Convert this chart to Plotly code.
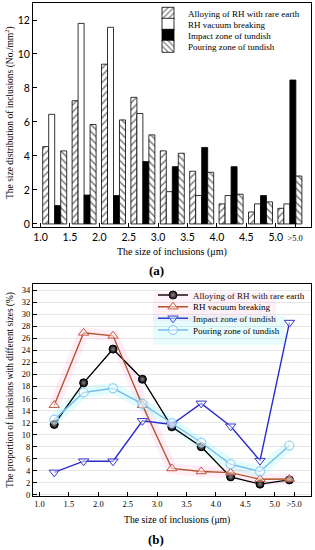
import plotly.graph_objects as go

# ---------------- data ----------------
bin_starts = [1.0, 1.5, 2.0, 2.5, 3.0, 3.5, 4.0, 4.5, 5.0]
bin_centers = [1.25, 1.75, 2.25, 2.75, 3.25, 3.75, 4.25, 4.75, 5.25]
tick_values = [1.0, 1.5, 2.0, 2.5, 3.0, 3.5, 4.0, 4.5, 5.0, 5.33]
tick_labels = ["1.0", "1.5", "2.0", "2.5", "3.0", "3.5", "4.0", "4.5", "5.0", ">5.0"]

series_names = ["Alloying of RH with rare earth", "RH vacuum breaking",
                "Impact zone of tundish", "Pouring zone of tundish"]

alloying_density = [4.55, 7.25, 9.4, 7.45, 4.3, 3.1, 1.18, 0.7, 0.92]
vacuum_density = [6.45, 11.8, 11.57, 6.5, 1.9, 1.67, 1.67, 1.18, 1.18]
impact_density = [1.08, 1.7, 1.67, 3.67, 3.37, 4.5, 3.37, 1.67, 8.47]
pouring_density = [4.3, 5.85, 6.12, 5.24, 4.16, 3.04, 1.75, 1.3, 2.82]

alloying_pct = [11.7, 18.6, 24.2, 19.2, 11.3, 8.0, 3.0, 1.8, 2.5]
vacuum_pct = [14.9, 26.9, 26.4, 14.9, 4.4, 3.9, 3.7, 2.6, 2.65]
impact_pct = [3.75, 5.6, 5.6, 12.3, 11.7, 15.2, 11.4, 5.7, 28.6]
pouring_pct = [12.5, 17.0, 17.7, 15.1, 11.9, 8.7, 5.1, 3.9, 8.2]

# ---------------- style ----------------
SERIF = "Liberation Serif"
SANS = "Lato"
W, H = 315, 550
ML, MR, MT, MB = 33, 4, 3, 54
PW, PH = W - ML - MR, H - MT - MB


def px_x(x):
    return (x - ML) / PW


def px_y(y):
    return (H - MB - y) / PH


fig = go.Figure()

bar_width = 0.102
bar_start = 0.037
bar_series = [alloying_density, vacuum_density, impact_density, pouring_density]
bar_styles = [
    dict(color="white", pattern=dict(shape="/", fgcolor="black", bgcolor="white", size=5, solidity=0.3)),
    dict(color="white"),
    dict(color="black"),
    dict(color="white", pattern=dict(shape="\\", fgcolor="black", bgcolor="white", size=5, solidity=0.3)),
]
legend_ids_a = ["legend", "legend2", "legend3", "legend4"]
for i, (vals, st) in enumerate(zip(bar_series, bar_styles)):
    fig.add_trace(go.Bar(
        x=bin_starts, y=vals, name=series_names[i],
        offset=bar_start + bar_width * i, width=bar_width,
        marker=dict(line=dict(color="black", width=0.8), **st),
        xaxis="x", yaxis="y", legend=legend_ids_a[i],
    ))

# highlight bands (b)
fig.add_trace(go.Scatter(x=bin_centers, y=vacuum_pct, mode="lines",
                         line=dict(color="rgba(255,120,190,0.13)", width=11),
                         showlegend=False, hoverinfo="skip", xaxis="x2", yaxis="y2"))
fig.add_trace(go.Scatter(x=bin_centers, y=pouring_pct, mode="lines",
                         line=dict(color="rgba(60,240,240,0.15)", width=11),
                         showlegend=False, hoverinfo="skip", xaxis="x2", yaxis="y2"))

line_series = [alloying_pct, vacuum_pct, impact_pct, pouring_pct]
line_colors = ["black", "#B5532B", "#2B2BCC", "#78BDEB"]
marker_colors = ["black", "#C8553D", "#3434D0", "#80C6F0"]
symbols = ["circle", "triangle-up", "triangle-down", "circle"]
legend_ids_b = ["legend5", "legend6", "legend7", "legend8"]
for i, vals in enumerate(line_series):
    if i == 0:
        mk = dict(symbol="circle", size=8, color="black",
                  gradient=dict(type="radial", color="#8a8a8a"),
                  line=dict(color="black", width=1))
    else:
        mk = dict(symbol=symbols[i], size=9, color="rgba(255,255,255,0.5)",
                  line=dict(color=marker_colors[i], width=1))
    fig.add_trace(go.Scatter(
        x=bin_centers, y=vals, name=series_names[i], mode="lines+markers",
        line=dict(color=line_colors[i], width=1.4), marker=mk,
        xaxis="x2", yaxis="y2", legend=legend_ids_b[i],
    ))

tick_text_a = tick_labels[:-1] + ["<span style='font-family:Liberation Serif;font-size:8.5px'>&gt;5.0</span>"]
tick_text_b = tick_labels[:-1] + ["&gt;5.0"]

axis_common = dict(showline=True, linecolor="black", linewidth=1, mirror=True,
                   ticks="inside", ticklen=4, tickcolor="black", zeroline=False,
                   automargin=False)

legend_common = dict(bgcolor="rgba(0,0,0,0)", borderwidth=0, xanchor="left", yanchor="middle",
                     font=dict(family=SERIF, size=9, color="black"), itemwidth=30,
                     tracegroupgap=0)

layout = dict(
    width=W, height=H, margin=dict(l=ML, r=MR, t=MT, b=MB, autoexpand=False),
    paper_bgcolor="white", plot_bgcolor="white", barmode="overlay",
    xaxis=dict(domain=[0, 1], anchor="y", range=[0.872, 5.60], tickvals=tick_values,
               ticktext=tick_text_a, tickfont=dict(family=SANS, size=10.5, color="black"),
               showgrid=False, **axis_common),
    yaxis=dict(domain=[px_y(227), 1.0], anchor="x", range=[-0.18, 13.0], tick0=0, dtick=2,
               tickfont=dict(family=SANS, size=10.5, color="black"), showgrid=False,
               **axis_common),
    xaxis2=dict(domain=[0, 1], anchor="y2", range=[0.889, 5.617], tickvals=tick_values,
                ticktext=tick_text_b, tickfont=dict(family=SERIF, size=8.5, color="black"),
                showgrid=False, **axis_common),
    yaxis2=dict(domain=[0, px_y(284)], anchor="x2", range=[-0.17, 35.0], tick0=0, dtick=2,
                tickfont=dict(family=SERIF, size=8.5, color="black"), showgrid=True,
                gridcolor="#e6e6e6", gridwidth=0.7, **axis_common),
)

rows_a = [13.3, 24.3, 35.3, 46.3]
rows_b = [295, 306.7, 318.3, 330]
for lid, ry in zip(legend_ids_a, rows_a):
    layout[lid] = dict(x=px_x(148), y=px_y(ry), **legend_common)
for j, (lid, ry) in enumerate(zip(legend_ids_b, rows_b)):
    lc = dict(legend_common)
    if j == 1:
        lc["bgcolor"] = "rgba(255,120,190,0.10)"
    if j == 3:
        lc["bgcolor"] = "rgba(60,240,240,0.12)"
    layout[lid] = dict(x=px_x(153), y=px_y(ry), **lc)

fig.update_layout(**layout)

annotations = [
    dict(text="The size distribution of inclusions (No./mm<sup>2</sup>)", x=px_x(10), y=px_y(113),
         textangle=-90, font=dict(family=SERIF, size=9.5)),
    dict(text="The size of inclusions (\u03bcm)", x=px_x(172), y=px_y(252),
         font=dict(family=SERIF, size=10)),
    dict(text="<b>(a)</b>", x=px_x(156), y=px_y(270), font=dict(family=SERIF, size=13)),
    dict(text="The proportion of inclusions with different sizes (%)", x=px_x(10), y=px_y(390),
         textangle=-90, font=dict(family=SERIF, size=9.3)),
    dict(text="The size of inclusions (\u03bcm)", x=px_x(177), y=px_y(520),
         font=dict(family=SERIF, size=9.7)),
    dict(text="<b>(b)</b>", x=px_x(156), y=px_y(539), font=dict(family=SERIF, size=13)),
]
for a in annotations:
    a.update(xref="paper", yref="paper", showarrow=False, xanchor="center", yanchor="middle")
    a["font"]["color"] = "black"
fig.update_layout(annotations=annotations)

fig.write_html("out.html", config={"displayModeBar": False},
               post_script="document.body.style.margin='0';document.body.style.padding='0';")
